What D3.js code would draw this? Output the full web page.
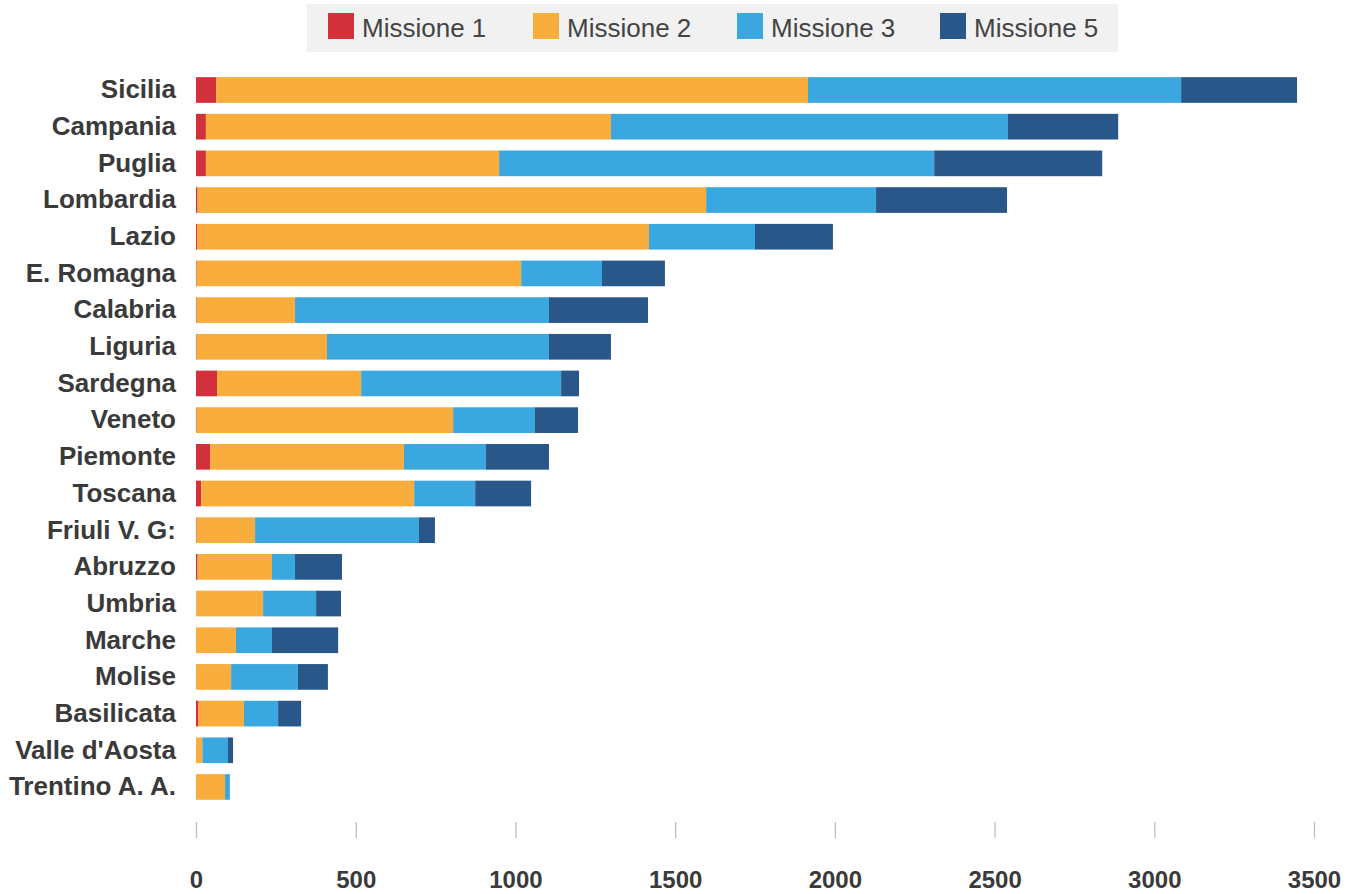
<!DOCTYPE html>
<html><head><meta charset="utf-8">
<script src="https://cdn.jsdelivr.net/npm/d3@7"></script>
<style>body{margin:0;background:#fff}</style>
</head><body>
<svg id="c" width="1358" height="894"></svg>
<script>
const regions = ["Sicilia","Campania","Puglia","Lombardia","Lazio","E. Romagna","Calabria","Liguria","Sardegna","Veneto","Piemonte","Toscana","Friuli V. G:","Abruzzo","Umbria","Marche","Molise","Basilicata","Valle d'Aosta","Trentino A. A."];
const seriesNames = ["Missione 1","Missione 2","Missione 3","Missione 5"];
const missione1 = [63,31,31,5,3,2,2,2,66,2,44,16,2,5,1,0,0,8,0,0];
const missione2 = [1853,1268,918,1592,1415,1016,308,408,451,803,607,667,183,233,209,125,110,142,20,91];
const missione3 = [1168,1243,1362,532,332,253,795,695,626,256,257,191,513,72,166,113,209,107,80,15];
const missione5 = [363,345,526,410,244,197,310,194,56,135,197,175,50,147,78,207,94,72,16,0];
const xTicks = [0,500,1000,1500,2000,2500,3000,3500];
const colors = ["#d2303b","#f8ad3c","#3aa7de","#29578a"];

const svg = d3.select("#c");
const font = "Liberation Sans, Arial, sans-serif";

const x = d3.scaleLinear().domain([0,3500]).range([196,1314]);
const y = d3.scaleBand().domain(regions).range([71.66,805.3]).paddingInner(0.3).paddingOuter(0.15);

const rows = regions.map((r,i)=>({region:r,"Missione 1":missione1[i],"Missione 2":missione2[i],"Missione 3":missione3[i],"Missione 5":missione5[i]}));
const stacked = d3.stack().keys(seriesNames)(rows);

svg.append("g").selectAll("g").data(stacked).join("g")
  .attr("fill",(d,i)=>colors[i])
  .selectAll("rect").data(d=>d).join("rect")
  .attr("x",d=>x(d[0]))
  .attr("width",d=>Math.max(0,x(d[1])-x(d[0])))
  .attr("y",d=>y(d.data.region))
  .attr("height",y.bandwidth());

// y labels
const yAxis = d3.axisLeft(y).tickSize(0).tickPadding(0);
const gy = svg.append("g").attr("transform","translate(176,0)").call(yAxis);
gy.select(".domain").remove();
gy.selectAll("text").attr("font-family",font).attr("font-weight","bold").attr("font-size",26).attr("fill","#3a3a3a");

// x axis
const xAxis = d3.axisBottom(x).tickValues(xTicks).tickSize(16).tickPadding(33).tickFormat(d3.format("d"));
const gx = svg.append("g").attr("transform","translate(0,822)").call(xAxis);
gx.select(".domain").remove();
gx.selectAll(".tick line").attr("stroke","#bbb").attr("stroke-width",1.2);
gx.selectAll("text").attr("font-family",font).attr("font-weight","bold").attr("font-size",24).attr("fill","#3a3a3a");

// legend
const lg = svg.append("g");
lg.append("rect").attr("x",307).attr("y",4).attr("width",811).attr("height",48).attr("fill","#f1f1f1");
const legX = [328,533,737,940];
seriesNames.forEach((s,i)=>{
  lg.append("rect").attr("x",legX[i]).attr("y",13).attr("width",26).attr("height",26).attr("fill",colors[i]);
  lg.append("text").attr("x",legX[i]+34).attr("y",37).text(s)
    .attr("font-family",font).attr("font-size",26).attr("fill","#444");
});
</script>
</body></html>
